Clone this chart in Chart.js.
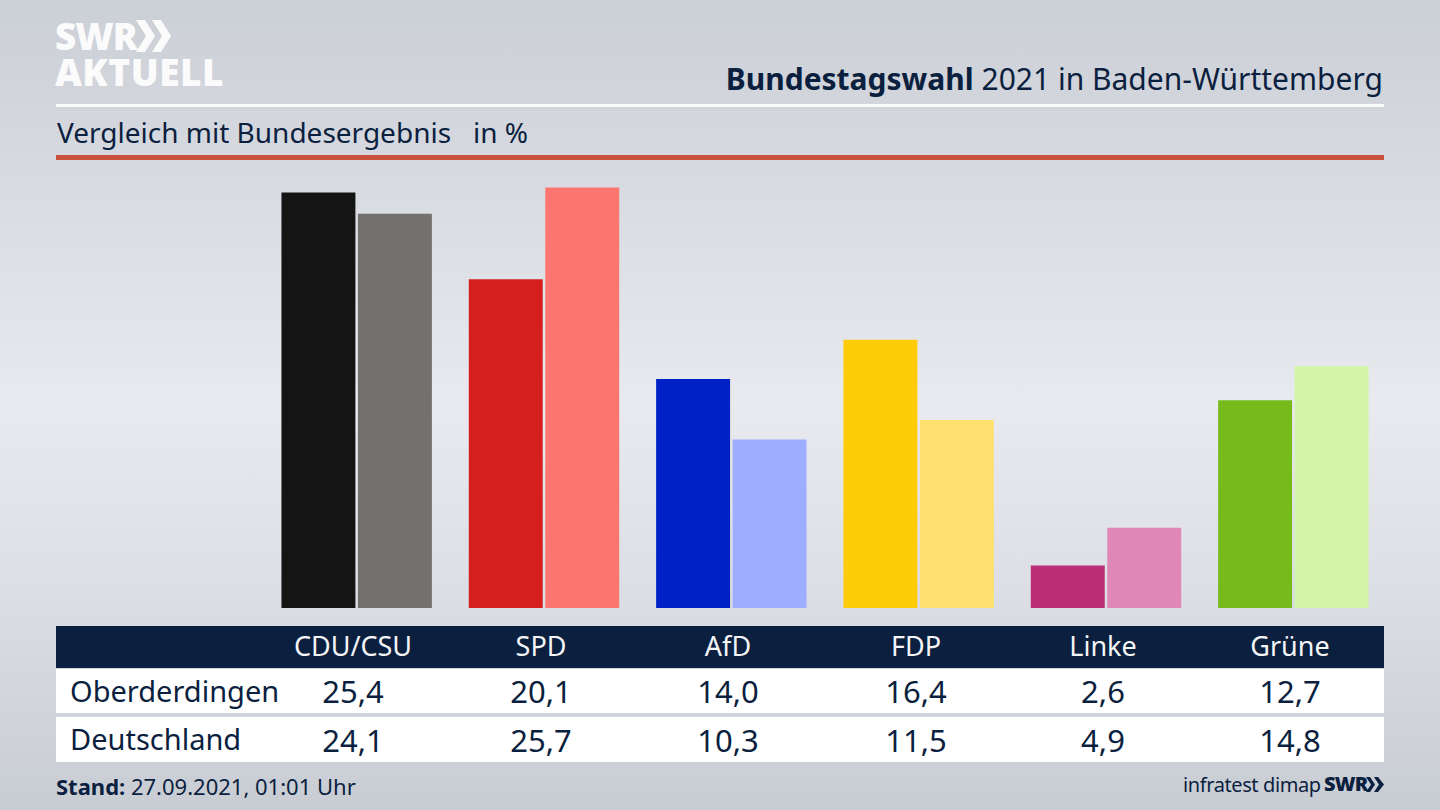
<!DOCTYPE html>
<html lang="de">
<head>
<meta charset="utf-8">
<title>Bundestagswahl 2021 in Baden-Württemberg</title>
<script src="https://cdn.jsdelivr.net/npm/chart.js@4"></script>
<style>
  html, body { margin: 0; padding: 0; }
  body {
    width: 1440px; height: 810px; position: relative; overflow: hidden;
    font-family: "Noto Sans", sans-serif; color: #0b1f3f;
    background: linear-gradient(180deg, #cbcfd6 0%, #d9dce2 25%, #e8eaef 50%, #dcdfe5 72%, #c8ccd3 100%);
  }
  .abs { position: absolute; white-space: nowrap; }
  .logo { font-weight: 900; color: #fbfbfb; font-family: "Open Sans", sans-serif; }
  #chartBox { position: absolute; left: 263px; top: 150px; width: 1124px; height: 458px; }
  .rule { position: absolute; left: 56px; width: 1328px; }
  .band { position: absolute; left: 56px; width: 1328px; }
  .cell { position: absolute; transform: translateX(-50%); white-space: nowrap; }
</style>
</head>
<body>
<div class="abs logo" style="left:55px;top:11px;font-size:37px;letter-spacing:-1px;line-height:50px">SWR</div>
<svg class="abs" style="left:136px;top:19px" width="36" height="34" viewBox="0 0 36 34">
  <path d="M0 1 H9 L19 17 L9 33 H0 L10 17 Z M16 1 H25 L35 17 L25 33 H16 L26 17 Z" fill="#fbfbfb"/>
</svg>
<div class="abs logo" style="left:55px;top:47px;font-size:37px;line-height:50px;letter-spacing:0.5px">AKTUELL</div>

<div class="abs" id="title" style="right:57px;top:58px;font-size:30px;line-height:42px"></div>
<div class="rule" style="top:104px;height:3px;background:#fbfbfb"></div>
<div class="abs" id="subtitle" style="left:57px;top:113px;font-size:28px;line-height:38px"></div>
<div class="rule" style="top:155px;height:5px;background:#c9513d"></div>

<div id="chartBox"><canvas id="resultChart"></canvas></div>

<div class="band" style="top:626px;height:42px;background:#0b1f3f"></div>
<div class="band" style="top:669px;height:44px;background:#fff"></div>
<div class="band" style="top:717px;height:45px;background:#fff"></div>
<div id="table"></div>

<div class="abs" id="stand" style="left:56px;top:771px;font-size:22px;line-height:30px"></div>
<div class="abs" style="left:1183px;top:771px;font-size:20px;line-height:28px;letter-spacing:-0.4px">infratest dimap</div>
<div class="abs" style="left:1324px;top:770px;font-size:20px;line-height:28px;font-weight:900;font-family:'Open Sans',sans-serif;letter-spacing:-0.8px">SWR</div>
<svg class="abs" style="left:1366px;top:777px" width="18" height="15" viewBox="0 0 18 15">
  <path d="M0 0 H4 L9 7.5 L4 15 H0 L5 7.5 Z M8 0 H12 L18 7.5 L12 15 H8 L13 7.5 Z" fill="#0b1f3f"/>
</svg>

<script>
const parties = ['CDU/CSU', 'SPD', 'AfD', 'FDP', 'Linke', 'Grüne'];
const oberderdingen = [25.4, 20.1, 14.0, 16.4, 2.6, 12.7];
const deutschland = [24.1, 25.7, 10.3, 11.5, 4.9, 14.8];
const colorsLocal = ['#141414', '#d41f1e', '#0021c6', '#ffcc0a', '#bb2d77', '#76bb1b'];
const colorsFederal = ['#72716e', '#ff7570', '#9eadff', '#ffe06e', '#df87b6', '#d2f5a7'];
const rowNames = ['Oberderdingen', 'Deutschland'];

document.getElementById('title').innerHTML = '<b>Bundestagswahl</b> 2021 in Baden-Württemberg';
document.getElementById('subtitle').innerHTML = 'Vergleich mit Bundesergebnis &nbsp; in %';
document.getElementById('stand').innerHTML = '<b>Stand:</b> 27.09.2021, 01:01 Uhr';

// table under the chart, columns sit a bit left of the bar groups
const columnX = [353, 541, 728, 916, 1103, 1290];
const table = document.getElementById('table');

function addCell(text, x, top, size, color) {
    const el = document.createElement('div');
    el.className = 'cell';
    el.textContent = text;
    el.style.left = x + 'px';
    el.style.top = top + 'px';
    el.style.fontSize = size + 'px';
    el.style.lineHeight = '40px';
    el.style.color = color;
    table.appendChild(el);
}

function addRowName(text, top) {
    const el = document.createElement('div');
    el.className = 'abs';
    el.textContent = text;
    el.style.left = '70px';
    el.style.top = top + 'px';
    el.style.fontSize = '29px';
    el.style.lineHeight = '40px';
    table.appendChild(el);
}

const formatValue = v => v.toFixed(1).replace('.', ',');

parties.forEach((name, i) => {
    addCell(name, columnX[i], 626, 27, '#f4f5f7');
    addCell(formatValue(oberderdingen[i]), columnX[i], 671, 31, '#0b1f3f');
    addCell(formatValue(deutschland[i]), columnX[i], 720, 31, '#0b1f3f');
});
addRowName(rowNames[0], 671);
addRowName(rowNames[1], 719);

new Chart(document.getElementById('resultChart'), {
    type: 'bar',
    data: {
        labels: parties,
        datasets: [
            { label: rowNames[0], data: oberderdingen, backgroundColor: colorsLocal },
            { label: rowNames[1], data: deutschland, backgroundColor: colorsFederal }
        ]
    },
    options: {
        responsive: true,
        maintainAspectRatio: false,
        animation: false,
        layout: { padding: 0 },
        plugins: { legend: { display: false }, tooltip: { enabled: false } },
        datasets: { bar: { categoryPercentage: 0.8164, barPercentage: 0.967 } },
        scales: {
            x: { display: false },
            y: { display: false, min: 0, max: 28 }
        }
    }
});
</script>
</body>
</html>
